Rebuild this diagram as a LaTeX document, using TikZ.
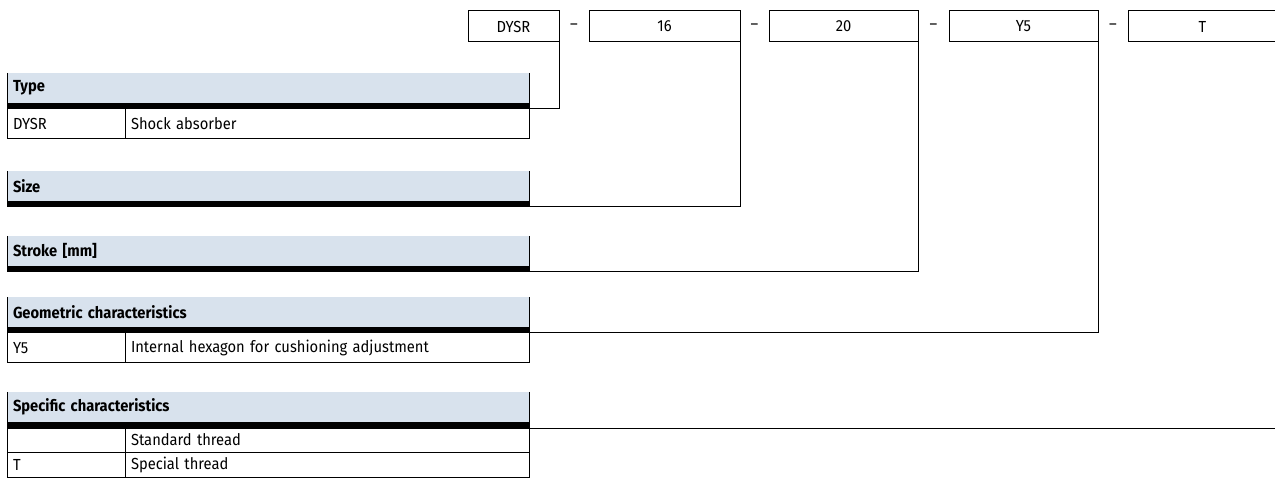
\documentclass[tikz,border=0pt]{standalone}
\usepackage{fontspec}
\setmainfont{Fira Sans}[FakeStretch=0.92]
\usetikzlibrary{positioning,calc}
\definecolor{headblue}{RGB}{216,226,237}
\newcommand\tabfont{\fontsize{16}{18}\selectfont}
\tikzset{
  rule/.style={line width=1pt},
  codebox/.style={draw,rule,anchor=north west,minimum height=31pt,inner sep=0pt,outer sep=0pt},
  head/.style={fill=headblue,anchor=north west,minimum width=522pt,minimum height=30pt,
    text width=510pt,inner xsep=6pt,inner ysep=0pt,outer sep=0pt,align=left,font=\tabfont\bfseries},
  headbar/.style={fill=black,minimum width=522pt,minimum height=6pt,inner sep=0pt,outer sep=0pt},
  keycell/.style={draw,rule,anchor=north west,minimum width=118pt,text width=106pt,
    inner xsep=6pt,inner ysep=0pt,outer sep=0pt,align=left},
  desccell/.style={draw,rule,anchor=north west,minimum width=404pt,text width=392pt,
    inner xsep=6pt,inner ysep=0pt,outer sep=0pt,align=left},
}
\begin{document}
\begin{tikzpicture}[x=1pt,y=-1pt,font=\tabfont]
\useasboundingbox (0,0) rectangle (1275,486);
% order code
\foreach \n/\x/\w/\t in {dysr/468/91/DYSR,size/589/151/16,stroke/769/149/20,geom/949/149/Y5,spec/1128/149/T}
  \node[codebox,minimum width=\w pt] (\n) at (\x,11) {\t};
\foreach \a/\b in {dysr/size,size/stroke,stroke/geom,geom/spec}
  \node (\a-\b) at ($(\a.east)!.5!(\b.west)$) {\textendash};
% tables
\foreach \n/\y/\t in {typeh/73/Type,sizeh/171/Size,strokeh/236/Stroke [mm],geomh/297/Geometric characteristics,spech/392/Specific characteristics}{
  \node[head] (\n) at (7,\y) {\t};
  \node[headbar,below=0pt of \n] (\n-bar) {};
  \draw[rule] (\n.north west) -- (\n-bar.south west) (\n.north east) -- (\n-bar.south east);
}
\node[keycell,minimum height=30pt] (k1) at (7,109) {DYSR};
\node[desccell,minimum height=30pt] (d1) at (125,109) {Shock absorber};
\node[keycell,minimum height=30pt] (k2) at (7,333) {Y5};
\node[desccell,minimum height=30pt] (d2) at (125,333) {Internal hexagon for cushioning adjustment};
\node[keycell,minimum height=24pt] (k3) at (7,428) {};
\node[desccell,minimum height=24pt] (d3) at (125,428) {Standard thread};
\node[keycell,minimum height=25pt] (k4) at (7,452) {T};
\node[desccell,minimum height=25pt] (d4) at (125,452) {Special thread};
% connectors
\draw[rule] (dysr.south east) |- (typeh-bar.south east);
\draw[rule] (size.south east) |- (sizeh-bar.south east);
\draw[rule] (stroke.south east) |- (strokeh-bar.south east);
\draw[rule] (geom.south east) |- (geomh-bar.south east);
\draw[rule] (spec.south east) |- (spech-bar.south east);
\end{tikzpicture}
\end{document}
